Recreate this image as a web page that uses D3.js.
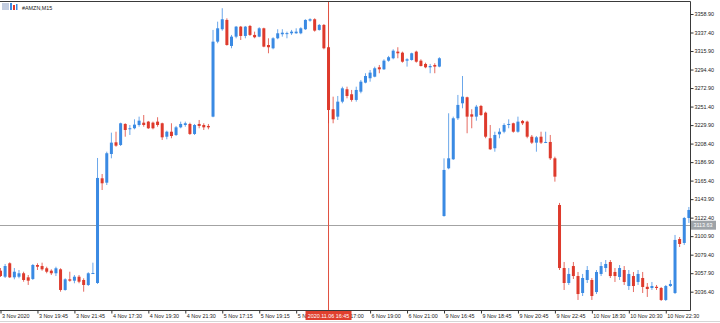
<!DOCTYPE html>
<html lang="en">
<head>
<meta charset="UTF-8">
<title>#AMZN,M15</title>
<script src="https://d3js.org/d3.v7.min.js"></script>
<style>
  body { margin: 0; background: #fff; }
  svg { display: block; font-family: "Liberation Sans", Arial, sans-serif; }
  .axis text { font-size: 5.4px; fill: #1a1a1a; }
  .axis line { stroke: #333; }
  .axis .domain { display: none; }
</style>
</head>
<body>
<div class="main"></div>
<script>
  let width = 720;
  let height = 323;
  let symbol = "#AMZN,M15";

  // M15 bars, left to right
  let opens = [3060.8, 3053.8, 3069.4, 3053.1, 3053.8, 3057.8, 3053.1, 3051.2, 3067.4, 3066.2,
    3063.6, 3060.8, 3057.8, 3062.4, 3038.4, 3050.8, 3049.2, 3053.8, 3050.0, 3044.2,
    3057.0, 3046.5, 3168.1, 3163.0, 3196.3, 3209.9, 3206.8, 3231.2, 3225.7, 3226.2,
    3230.0, 3232.7, 3233.9, 3232.7, 3233.9, 3232.0, 3216.4, 3222.2, 3218.4, 3227.3,
    3230.0, 3231.2, 3219.6, 3231.2, 3230.0, 3228.9, 3239.7, 3326.8, 3341.2, 3352.0,
    3321.8, 3332.6, 3344.2, 3333.4, 3345.0, 3334.6, 3332.6, 3342.3, 3322.9, 3319.1,
    3330.7, 3335.4, 3336.2, 3336.5, 3336.5, 3336.5, 3341.2, 3351.2, 3352.8, 3340.4,
    3346.2, 3320.3, 3248.3, 3239.7, 3257.1, 3271.5, 3265.7, 3259.1, 3268.7, 3279.2,
    3284.3, 3286.1, 3297.0, 3294.7, 3304.7, 3307.5, 3315.2, 3314.0, 3304.7, 3305.5,
    3315.2, 3304.7, 3300.9, 3297.0, 3299.7, 3297.8, 3124.3, 3179.7, 3190.2, 3237.8,
    3255.2, 3262.2, 3242.4, 3239.7, 3252.1, 3244.3, 3214.6, 3203.0, 3219.2, 3222.2,
    3230.6, 3232.0, 3222.2, 3234.7, 3233.9, 3216.4, 3209.5, 3216.4, 3209.5, 3210.3,
    3191.3, 3137.1, 3063.9, 3046.5, 3066.2, 3054.6, 3034.9, 3050.0, 3050.0, 3036.0,
    3057.0, 3063.9, 3070.9, 3059.3, 3053.5, 3061.6, 3043.0, 3054.6, 3047.7, 3052.3,
    3042.1, 3040.7, 3042.1, 3040.7, 3026.8, 3043.0, 3034.9, 3097.6, 3093.0, 3122.0];
  let highs = [3063.9, 3068.6, 3070.5, 3063.9, 3061.6, 3059.6, 3055.8, 3068.6, 3069.4, 3070.1,
    3065.4, 3062.4, 3065.4, 3063.6, 3052.0, 3059.6, 3055.8, 3055.8, 3052.0, 3059.0,
    3070.1, 3191.7, 3173.1, 3199.0, 3221.1, 3222.2, 3232.7, 3232.0, 3230.0, 3236.6,
    3239.7, 3241.6, 3234.7, 3233.9, 3239.0, 3232.7, 3223.4, 3232.0, 3228.9, 3233.9,
    3233.9, 3232.7, 3231.2, 3235.8, 3232.0, 3231.2, 3340.4, 3350.0, 3365.6, 3353.9,
    3334.6, 3345.0, 3345.0, 3345.0, 3346.2, 3338.4, 3343.5, 3343.0, 3330.7, 3331.9,
    3341.2, 3341.2, 3338.4, 3340.4, 3342.3, 3343.5, 3352.8, 3353.9, 3353.9, 3347.3,
    3347.3, 3321.0, 3262.9, 3263.7, 3274.5, 3274.5, 3270.7, 3274.5, 3282.3, 3290.1,
    3293.9, 3297.7, 3299.7, 3306.3, 3310.2, 3317.9, 3320.3, 3315.2, 3307.5, 3314.0,
    3316.3, 3306.3, 3302.4, 3300.9, 3301.7, 3308.7, 3191.3, 3243.6, 3239.7, 3264.9,
    3286.9, 3262.9, 3248.3, 3253.3, 3253.3, 3245.5, 3230.0, 3222.2, 3226.2, 3232.0,
    3236.6, 3232.7, 3239.7, 3235.8, 3235.0, 3218.4, 3217.2, 3222.2, 3222.2, 3218.4,
    3193.2, 3139.5, 3070.9, 3063.9, 3070.9, 3059.3, 3057.0, 3066.2, 3052.3, 3061.6,
    3070.9, 3073.2, 3073.2, 3063.9, 3067.4, 3066.2, 3061.6, 3059.3, 3061.6, 3059.3,
    3046.5, 3047.7, 3044.2, 3041.9, 3044.2, 3050.0, 3102.3, 3099.9, 3123.2, 3134.8];
  let lows = [3053.5, 3052.3, 3052.3, 3050.8, 3052.0, 3048.0, 3044.2, 3050.0, 3061.6, 3060.8,
    3057.8, 3055.8, 3054.6, 3036.4, 3037.6, 3048.0, 3046.2, 3046.2, 3036.4, 3043.0,
    3057.0, 3045.4, 3154.5, 3160.3, 3191.3, 3204.8, 3205.6, 3216.4, 3218.4, 3225.0,
    3228.0, 3228.0, 3225.4, 3225.0, 3228.0, 3212.6, 3213.4, 3214.6, 3217.2, 3226.2,
    3228.0, 3218.4, 3218.4, 3226.2, 3224.2, 3225.0, 3239.0, 3324.9, 3339.5, 3322.1,
    3319.1, 3330.7, 3328.7, 3330.7, 3333.4, 3330.7, 3331.9, 3320.3, 3313.3, 3317.9,
    3329.6, 3332.6, 3330.7, 3334.6, 3336.0, 3335.4, 3340.4, 3350.0, 3338.4, 3339.6,
    3317.9, 3232.0, 3232.0, 3235.8, 3255.2, 3261.0, 3257.1, 3257.1, 3266.8, 3278.4,
    3280.3, 3285.4, 3290.1, 3293.9, 3303.5, 3306.3, 3307.5, 3302.4, 3297.8, 3304.7,
    3302.4, 3298.0, 3295.9, 3290.1, 3290.1, 3297.0, 3123.5, 3178.6, 3189.4, 3235.8,
    3249.4, 3220.4, 3226.2, 3235.0, 3240.5, 3214.6, 3201.0, 3199.0, 3214.6, 3220.4,
    3226.2, 3221.1, 3221.1, 3230.0, 3214.6, 3208.0, 3199.0, 3208.0, 3209.0, 3189.4,
    3164.2, 3061.6, 3038.4, 3044.2, 3051.2, 3026.8, 3031.4, 3046.5, 3026.8, 3033.7,
    3054.6, 3059.3, 3052.3, 3047.7, 3050.0, 3044.2, 3038.4, 3036.0, 3044.2, 3034.9,
    3030.3, 3038.4, 3038.4, 3025.6, 3025.6, 3041.9, 3033.7, 3088.3, 3090.7, 3116.2];
  let closes = [3054.6, 3066.2, 3053.1, 3059.6, 3057.8, 3050.0, 3049.2, 3067.4, 3065.4, 3062.4,
    3059.6, 3057.8, 3063.6, 3038.4, 3050.8, 3049.2, 3053.8, 3048.0, 3044.2, 3057.8,
    3058.1, 3168.5, 3162.3, 3197.2, 3209.5, 3206.0, 3232.0, 3224.2, 3226.2, 3230.4,
    3235.0, 3230.0, 3226.2, 3226.2, 3230.0, 3215.7, 3222.2, 3217.2, 3227.3, 3231.2,
    3232.0, 3219.6, 3230.0, 3228.9, 3227.3, 3227.3, 3326.8, 3342.3, 3352.8, 3322.9,
    3332.6, 3344.2, 3333.4, 3344.2, 3334.6, 3331.9, 3342.3, 3321.0, 3320.3, 3330.7,
    3336.5, 3337.2, 3336.7, 3338.4, 3338.4, 3342.3, 3352.0, 3352.8, 3339.6, 3346.2,
    3319.1, 3247.4, 3236.6, 3257.1, 3272.6, 3263.7, 3259.1, 3270.7, 3280.3, 3286.9,
    3290.8, 3295.9, 3294.7, 3304.7, 3308.7, 3316.3, 3313.3, 3303.5, 3306.3, 3313.3,
    3303.5, 3298.5, 3297.0, 3298.5, 3297.8, 3307.5, 3177.8, 3191.3, 3237.8, 3253.3,
    3262.9, 3239.7, 3239.7, 3251.3, 3241.6, 3216.4, 3201.8, 3218.4, 3222.2, 3230.0,
    3231.2, 3222.2, 3233.9, 3232.0, 3216.4, 3209.5, 3215.7, 3209.5, 3210.3, 3191.3,
    3170.0, 3063.9, 3046.5, 3057.0, 3054.6, 3033.7, 3052.3, 3061.6, 3031.4, 3059.3,
    3066.2, 3068.6, 3054.6, 3054.6, 3063.9, 3047.7, 3057.0, 3043.0, 3057.0, 3041.9,
    3039.5, 3043.0, 3040.7, 3026.8, 3043.0, 3045.4, 3096.5, 3091.8, 3122.0, 3131.3];

  let priceTicks = [3358.90, 3337.40, 3315.90, 3294.40, 3272.90, 3251.40, 3229.90, 3208.40,
    3186.90, 3165.40, 3143.90, 3122.40, 3100.90, 3079.40, 3057.90, 3036.40];
  let timeLabels = ["3 Nov 2020", "3 Nov 19:45", "3 Nov 21:45", "4 Nov 17:30", "4 Nov 19:30",
    "4 Nov 21:30", "5 Nov 17:15", "5 Nov 19:15", "5 Nov 21:15", "6 Nov 17:00", "6 Nov 19:00",
    "6 Nov 21:00", "9 Nov 16:45", "9 Nov 18:45", "9 Nov 20:45", "9 Nov 22:45", "10 Nov 18:30",
    "10 Nov 20:30", "10 Nov 22:30"];
  let labelEvery = 8;
  let markerBar = 71;
  let markerText = "2020.11.06 16:45";
  let lastPrice = 3113.63;

  let upColor = "#3a8ae3";
  let downColor = "#de3a2c";
  let plotRight = 690.5, plotTop = 1.5, plotBottom = 310.5;

  let bars = opens.map((o, i) => ({ i: i, o: o, h: highs[i], l: lows[i], c: closes[i] }));

  let x = d3.scaleLinear().domain([0, bars.length - 1]).range([0.5, 0.5 + 4.62 * (bars.length - 1)]);
  let y = d3.scaleLinear().domain([3358.9, 3036.4]).range([14, 291.7]);

  let svg = d3.select(".main").append("svg")
      .attr("width", width)
      .attr("height", height);

  // title + icon
  let icon = svg.append("g");
  icon.append("rect").attr("x", 2).attr("y", 3).attr("width", 7).attr("height", 7).attr("fill", "#c3cde0");
  icon.append("rect").attr("x", 10).attr("y", 3).attr("width", 2).attr("height", 7).attr("fill", upColor);
  icon.append("rect").attr("x", 13).attr("y", 5).attr("width", 2).attr("height", 5).attr("fill", downColor);
  icon.append("rect").attr("x", 16).attr("y", 4).attr("width", 1.5).attr("height", 6).attr("fill", upColor);
  svg.append("text").attr("x", 22).attr("y", 9.5)
      .style("font-size", "5.4px").attr("fill", "#1a1a1a")
      .text(symbol);

  // bid line and vertical marker line
  svg.append("line")
      .attr("x1", 0).attr("x2", plotRight)
      .attr("y1", Math.round(y(lastPrice)) + 0.5).attr("y2", Math.round(y(lastPrice)) + 0.5)
      .attr("stroke", "#a3a3a3").attr("stroke-width", 1);
  svg.append("line")
      .attr("x1", x(markerBar)).attr("x2", x(markerBar))
      .attr("y1", plotTop).attr("y2", plotBottom)
      .attr("stroke", "#e0503f").attr("stroke-width", 1);

  // candles
  let candles = svg.append("g").selectAll("g")
      .data(bars)
      .join("g")
      .attr("fill", d => d.c >= d.o ? upColor : downColor)
      .attr("stroke", d => d.c >= d.o ? upColor : downColor);

  candles.append("line")
      .attr("x1", d => x(d.i)).attr("x2", d => x(d.i))
      .attr("y1", d => y(d.h)).attr("y2", d => y(d.l))
      .attr("stroke-width", 1)
      .attr("stroke-opacity", 0.75);

  candles.append("rect")
      .attr("x", d => x(d.i) - 1.5)
      .attr("y", d => y(Math.max(d.o, d.c)))
      .attr("width", 3)
      .attr("height", d => Math.max(1, y(Math.min(d.o, d.c)) - y(Math.max(d.o, d.c))))
      .attr("stroke", "none");

  // frame
  svg.append("path")
      .attr("d", `M0,${plotTop}H${plotRight}V${plotBottom}H0`)
      .attr("fill", "none").attr("stroke", "#3a3a3a").attr("stroke-width", 1);
  svg.append("line").attr("x1", 0).attr("x2", width).attr("y1", 321.5).attr("y2", 321.5)
      .attr("stroke", "#d6d6d6");

  // price axis
  svg.append("g")
      .attr("class", "axis")
      .attr("transform", `translate(${plotRight},0)`)
      .call(d3.axisRight(y).tickValues(priceTicks).tickSize(3).tickPadding(1).tickFormat(d3.format(".2f")));

  // time axis
  let timeAxis = svg.append("g")
      .attr("class", "axis")
      .attr("transform", `translate(0,${plotBottom})`)
      .call(d3.axisBottom(x)
          .tickValues(timeLabels.map((t, k) => k * labelEvery))
          .tickSize(3).tickPadding(1)
          .tickFormat((d, k) => timeLabels[k]));
  timeAxis.selectAll("text").attr("text-anchor", "start").attr("x", 1);

  // marker label on time axis, drawn over the labels it hides
  let mx = x(markerBar);
  svg.append("rect").attr("x", mx - 23).attr("y", 311).attr("width", 46).attr("height", 9)
      .attr("fill", "#e0402e");
  svg.append("text").attr("x", mx).attr("y", 317.7).attr("text-anchor", "middle")
      .style("font-size", "5.4px").attr("fill", "#fff").text(markerText);

  // last price label on price axis
  let py = y(lastPrice);
  svg.append("rect").attr("x", plotRight + 0.5).attr("y", py - 4.5).attr("width", 25).attr("height", 9)
      .attr("fill", "#9ea3a8");
  svg.append("text").attr("x", plotRight + 3).attr("y", py + 2)
      .style("font-size", "5.4px").attr("fill", "#fff").text(d3.format(".2f")(lastPrice));
</script>
</body>
</html>
